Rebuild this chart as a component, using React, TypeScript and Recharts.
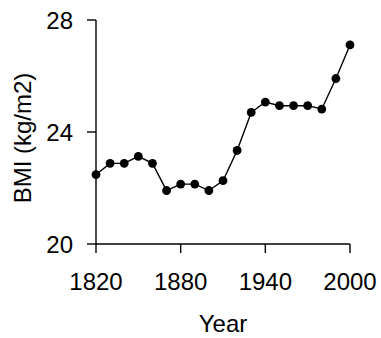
import { LineChart, Line, XAxis, YAxis } from 'recharts'

const years = [1820, 1830, 1840, 1850, 1860, 1870, 1880, 1890, 1900, 1910, 1920, 1930, 1940, 1950, 1960, 1970, 1980, 1990, 2000]
const bmi = [22.48, 22.88, 22.88, 23.13, 22.88, 21.91, 22.14, 22.14, 21.91, 22.26, 23.34, 24.7, 25.07, 24.94, 24.94, 24.94, 24.82, 25.91, 27.11]
const xTicks = [1820, 1880, 1940, 2000]
const yTicks = [20, 24, 28]

const data = years.map((year, i) => ({ year, bmi: bmi[i] }))

const FONT = '"Liberation Sans", Arial, sans-serif'

function YLabel({ viewBox }: any) {
  const x = viewBox.x + 22.5
  const y = viewBox.y + viewBox.height / 2 + 6
  return (
    <text
      x={x}
      y={y}
      transform={`rotate(-90, ${x}, ${y})`}
      textAnchor="middle"
      dominantBaseline="central"
      fontSize={24}
      fontFamily={FONT}
      fill="#000"
    >
      BMI (kg/m2)
    </text>
  )
}

export default function App() {
  return (
    <div style={{ position: 'absolute', left: 0, top: 0, background: '#fff' }}>
      <LineChart width={381} height={338} data={data} margin={{ top: 20, right: 31, left: 0, bottom: 0 }}>
        <XAxis
          dataKey="year"
          type="number"
          domain={[1820, 2000]}
          ticks={xTicks}
          height={94}
          stroke="#000"
          strokeWidth={1.4}
          tickSize={9}
          tickMargin={20}
          tick={{ fill: '#000', fontSize: 24, fontFamily: FONT }}
          label={{ value: 'Year', position: 'insideBottom', offset: 6, fill: '#000', fontSize: 24, fontFamily: FONT }}
        />
        <YAxis
          type="number"
          domain={[20, 28]}
          ticks={yTicks}
          width={96}
          stroke="#000"
          strokeWidth={1.4}
          tickSize={9}
          tickMargin={14}
          tick={{ fill: '#000', fontSize: 24, fontFamily: FONT }}
          label={<YLabel />}
        />
        <Line
          dataKey="bmi"
          type="linear"
          stroke="#000"
          strokeWidth={1.4}
          dot={{ r: 4.4, fill: '#000', stroke: '#000', strokeWidth: 0 }}
          isAnimationActive={false}
        />
      </LineChart>
    </div>
  )
}
